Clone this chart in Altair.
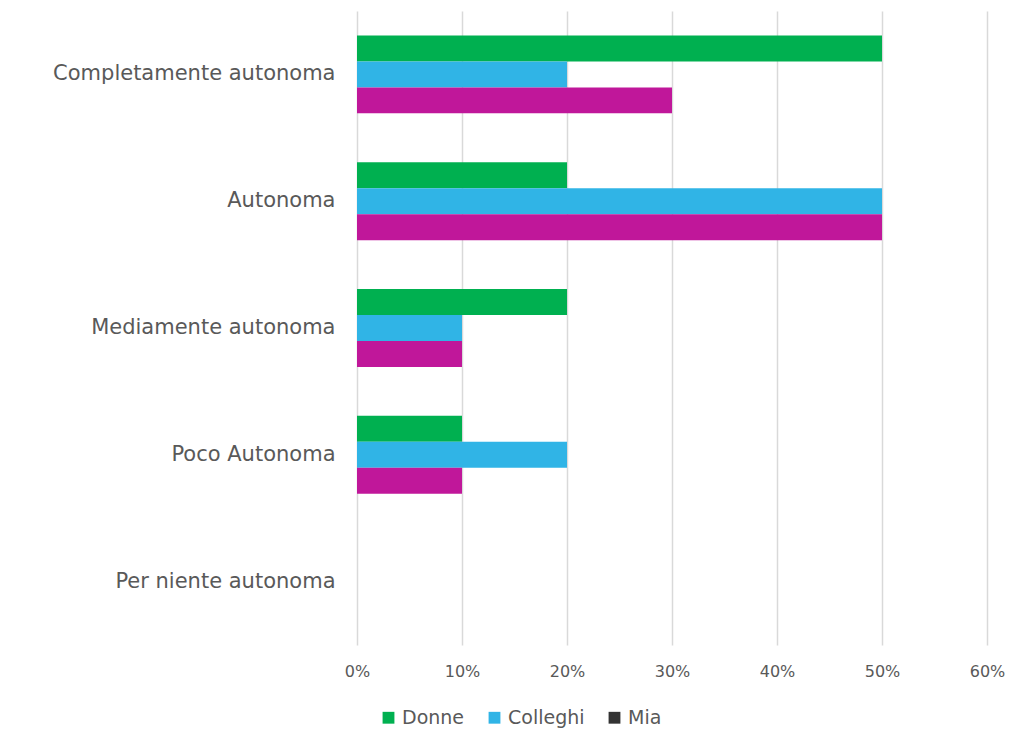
import altair as alt
import pandas as pd

categories = ["Completamente autonoma", "Autonoma", "Mediamente autonoma", "Poco Autonoma", "Per niente autonoma"]
series = ["Donne", "Colleghi", "Mia"]
donne = [0.50, 0.20, 0.20, 0.10, 0.0]
colleghi = [0.20, 0.50, 0.10, 0.20, 0.0]
mia = [0.30, 0.50, 0.10, 0.10, 0.0]
bar_colors = ["#00B050", "#30B4E6", "#C0179A"]
legend_colors = ["#00B050", "#30B4E6", "#333333"]

rows = []
for i, c in enumerate(categories):
    for s, vals in zip(series, [donne, colleghi, mia]):
        rows.append({"cat": c, "series": s, "value": vals[i]})
df = pd.DataFrame(rows)
legend_df = pd.DataFrame({"series": series, "value": [-1.0] * 3, "cat": [categories[0]] * 3})

FONT = "DejaVu Sans"
GRAY = "#595959"

x_enc = alt.X("value:Q", scale=alt.Scale(domain=[0, 0.6]),
              axis=alt.Axis(format=".0%", values=[0, 0.1, 0.2, 0.3, 0.4, 0.5, 0.6], title=None,
                            domain=False, ticks=False, grid=True, gridColor="#D9D9D9", gridWidth=1.5,
                            labelFontSize=16, labelColor=GRAY, labelFont=FONT, labelPadding=18,
                            labelFlush=False))
y_enc = alt.Y("cat:N", sort=categories,
              scale=alt.Scale(paddingInner=0.386, paddingOuter=0.193),
              axis=alt.Axis(title=None, domain=False, ticks=False, labelFontSize=21,
                            labelColor=GRAY, labelFont=FONT, labelPadding=22, labelLimit=400))

bars = alt.Chart(df).mark_bar().encode(
    x=x_enc,
    y=y_enc,
    yOffset=alt.YOffset("series:N", sort=series, scale=alt.Scale(paddingInner=0, paddingOuter=0)),
    fill=alt.Fill("series:N", sort=series, scale=alt.Scale(domain=series, range=bar_colors), legend=None),
)

legend_layer = alt.Chart(legend_df).mark_square(clip=True, opacity=1).encode(
    x=alt.X("value:Q"),
    y=alt.Y("cat:N", sort=categories),
    color=alt.Color("series:N", sort=series,
                    scale=alt.Scale(domain=series, range=legend_colors),
                    legend=alt.Legend(title=None, orient="none", direction="horizontal",
                                      legendX=22, legendY=697, symbolType="square", symbolSize=140,
                                      symbolStrokeWidth=0, labelFontSize=19, labelColor=GRAY,
                                      labelFont=FONT, columnPadding=20, labelOffset=4)),
)

chart = alt.layer(legend_layer, bars).properties(
    width=630, height=634,
    background="white",
    autosize=alt.AutoSizeParams(type="none"),
    padding={"left": 357, "top": 11, "right": 24, "bottom": 86},
).configure_view(stroke=None)

chart.save("out.html", embed_options={"renderer": "svg", "actions": False})
